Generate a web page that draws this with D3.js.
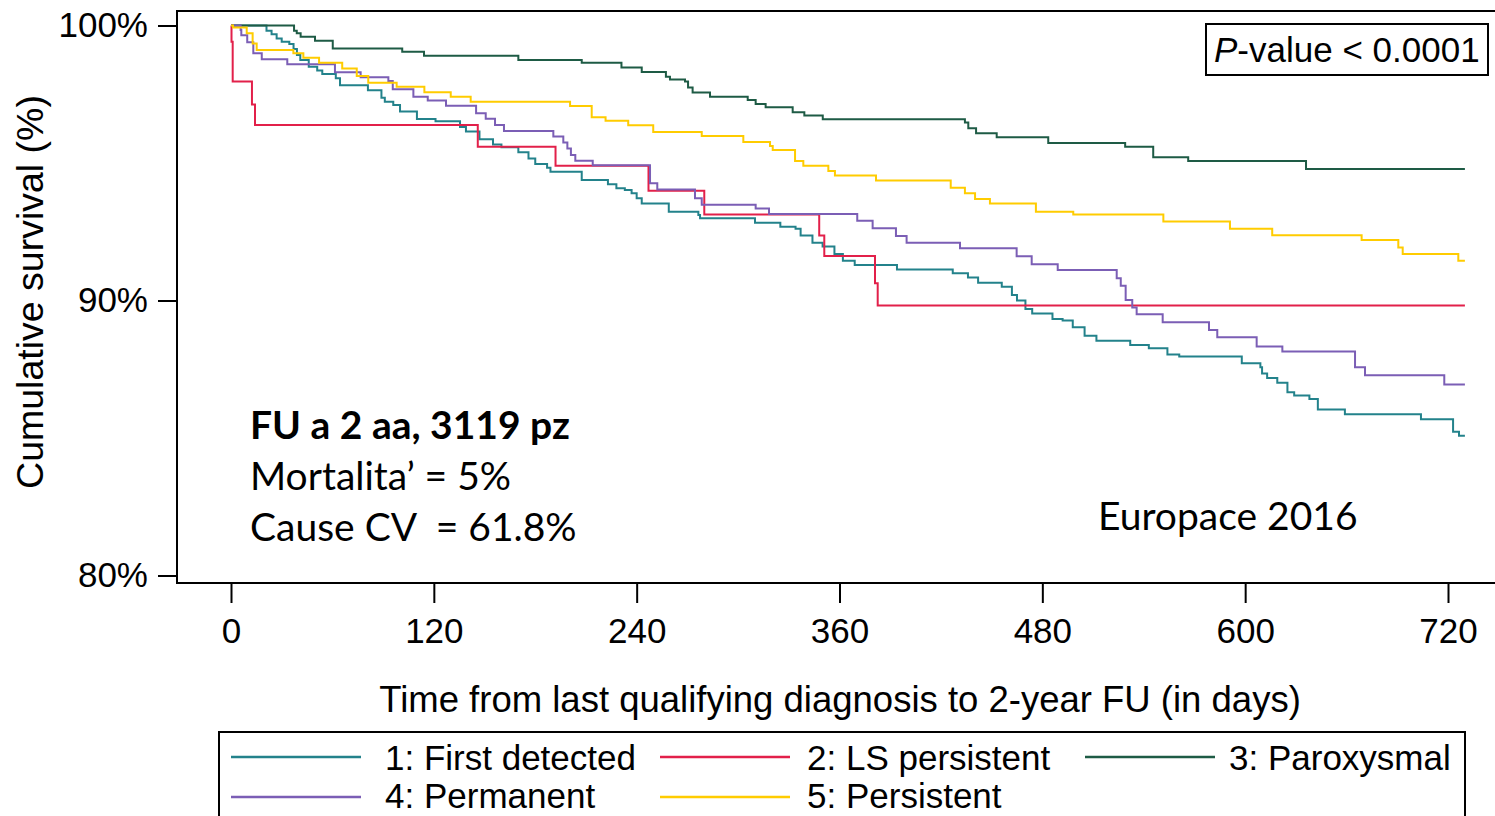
<!DOCTYPE html>
<html>
<head>
<meta charset="utf-8">
<script src="https://cdn.jsdelivr.net/npm/d3@7"></script>
<style>
  body { margin: 0; background: #fff; }
  svg { display: block; }
  .lbl { font-family: "Liberation Sans", Arial, Helvetica, sans-serif; font-size: 35px; fill: #000; }
  .note { font-family: Lato, "Open Sans", sans-serif; font-size: 39px; fill: #000; }
</style>
</head>
<body>
<svg width="1495" height="816"></svg>
<script>
// groups, in legend order
var categories = ["1: First detected", "2: LS persistent", "3: Paroxysmal", "4: Permanent", "5: Persistent"];
var colors = ["#23828b", "#e2204a", "#1e5b45", "#7b5eb5", "#ffcc00"];

// Kaplan-Meier steps: [day, survival %]
var firstDetected = [[0,100],[21,99.81],[24,99.68],[27,99.53],[30,99.41],[34.5,99.33],[37,99.15],[39,98.93],[41,98.75],[46,98.5],[51,98.36],[54,98.24],[62,98.08],[64.5,97.83],[81,97.65],[89,97.37],[91,97.23],[96,97.11],[100,96.87],[110,96.6],[121,96.52],[135.5,96.31],[139,96.15],[147,95.86],[155,95.67],[160,95.57],[170,95.39],[176,95.16],[180,94.96],[187,94.83],[189,94.68],[207.5,94.38],[223,94.23],[228,94.08],[233,94.02],[237,93.9],[240,93.72],[243,93.53],[259,93.23],[276.5,93.11],[277.5,92.99],[310,92.83],[325,92.68],[334,92.61],[337,92.36],[344,92.1],[350,91.96],[357,91.69],[362,91.45],[369,91.29],[394,91.13],[427,90.99],[436,90.84],[442,90.65],[456,90.5],[462,90.2],[465,90],[470,89.69],[474,89.53],[486,89.33],[492,89.27],[498,89.03],[505,88.72],[512,88.54],[532,88.38],[543,88.26],[554,88.04],[561,87.96],[598,87.72],[609,87.57],[610,87.35],[613,87.18],[619,87.01],[625,86.66],[629,86.55],[638,86.42],[643,86.04],[659,85.86],[704,85.68],[723,85.23],[726.5,85.08],[730,85.08]];
var lsPersistent = [[0,100],[0.3,99.41],[1,97.96],[12.4,97.13],[14.2,96.38],[146,95.59],[192,94.9],[247,93.99],[280,93.13],[348,92.36],[351,91.62],[381,90.63],[382.6,89.82],[730,89.82]];
var paroxysmal = [[0,100],[37.3,99.81],[38.9,99.72],[41.2,99.59],[49.7,99.45],[60.2,99.16],[101.3,99.05],[114.2,98.9],[170,98.75],[207.5,98.65],[231,98.47],[243,98.31],[257.3,98.14],[259.7,98.04],[268.6,97.96],[270.4,97.75],[273.1,97.56],[283.4,97.41],[305.7,97.29],[310.4,97.15],[316.3,97.03],[332.3,96.85],[339.2,96.73],[350.1,96.59],[434.2,96.47],[436.2,96.26],[440.8,96.08],[453,95.94],[483.5,95.73],[529,95.59],[545.6,95.21],[566.3,95.07],[636,94.78],[730,94.78]];
var permanent = [[0,100],[5.7,99.84],[6.1,99.65],[9.6,99.39],[13.2,98.99],[18.2,98.77],[33.3,98.59],[61.5,98.3],[76.7,98.12],[93.1,97.98],[95.7,97.68],[107.9,97.41],[116.4,97.27],[127.2,97.08],[145,96.81],[150.7,96.61],[156.2,96.38],[161.5,96.16],[190.7,95.96],[196.6,95.75],[199,95.53],[201.1,95.29],[203.7,95.08],[214,94.92],[247.9,94.26],[252.2,94.04],[274.5,93.72],[278.5,93.48],[310.4,93.35],[318.3,93.15],[370.5,92.9],[379.6,92.63],[393.4,92.35],[399.7,92.1],[431.3,91.9],[464.8,91.61],[473.7,91.32],[489.1,91.11],[524,90.81],[526.4,90.54],[529.3,90.02],[533.2,89.75],[535.8,89.5],[551.2,89.21],[578.6,88.93],[583.5,88.66],[606.8,88.33],[622,88.15],[665,87.57],[670.9,87.28],[717.8,86.95],[730,86.95]];
var persistent = [[0,100],[1.2,99.93],[9.3,99.72],[12.8,99.35],[15.2,99.11],[36.9,98.99],[42.8,98.83],[52.1,98.65],[65.8,98.44],[74.4,98.16],[81.2,97.92],[98,97.77],[114.4,97.57],[130,97.41],[141.8,97.23],[200.6,97.07],[213.4,96.66],[221.6,96.54],[235,96.37],[249.8,96.13],[278.5,95.98],[303.1,95.76],[318.9,95.62],[320.5,95.47],[333.7,95.07],[338.6,94.9],[353.4,94.71],[357.3,94.55],[381.6,94.36],[425.8,94.1],[434.2,93.9],[440.2,93.69],[449,93.53],[476.2,93.23],[498.3,93.13],[551.6,92.87],[591,92.61],[616,92.37],[668.9,92.2],[690.6,91.93],[693.2,91.69],[726.1,91.45],[730,91.45]];

var xTicks = [0, 120, 240, 360, 480, 600, 720];
var yTicks = [80, 90, 100];
var yTickLabels = ["80%", "90%", "100%"];

var series = [firstDetected, lsPersistent, paroxysmal, permanent, persistent];

var svg = d3.select("svg");

var x = d3.scaleLinear().domain([0, 720]).range([231, 1448]);
var y = d3.scaleLinear().domain([80, 100]).range([575.5, 25.5]);

// plot frame (right side runs off the picture)
svg.append("rect")
  .attr("x", 177).attr("y", 11)
  .attr("width", 1330).attr("height", 572)
  .attr("fill", "none").attr("stroke", "#000").attr("stroke-width", 2);

// y axis
var yAxis = svg.append("g").attr("transform", "translate(177,0)")
  .call(d3.axisLeft(y).tickValues(yTicks).tickSize(19).tickPadding(10)
    .tickFormat(function(d, i) { return yTickLabels[i]; }));
yAxis.select(".domain").remove();
yAxis.selectAll(".tick line").attr("stroke-width", 2);
yAxis.selectAll(".tick text").attr("class", "lbl").attr("font-size", null).attr("font-family", null);

// x axis
var xAxis = svg.append("g").attr("transform", "translate(0,583)")
  .call(d3.axisBottom(x).tickValues(xTicks).tickSize(20).tickPadding(15));
xAxis.select(".domain").remove();
xAxis.selectAll(".tick line").attr("stroke-width", 2);
xAxis.selectAll(".tick text").attr("class", "lbl").attr("font-size", null).attr("font-family", null);

svg.append("text").attr("class", "lbl")
  .attr("x", 840).attr("y", 712).attr("text-anchor", "middle")
  .style("font-size", "36.5px")
  .text("Time from last qualifying diagnosis to 2-year FU (in days)");

svg.append("text").attr("class", "lbl")
  .attr("transform", "translate(43,292) rotate(-90)")
  .attr("text-anchor", "middle")
  .style("font-size", "37.5px")
  .text("Cumulative survival (%)");

// curves
var line = d3.line()
  .x(function(d) { return x(d[0]); })
  .y(function(d) { return y(d[1]); })
  .curve(d3.curveStepAfter);

svg.append("g").selectAll("path")
  .data(series)
  .enter().append("path")
  .attr("d", line)
  .attr("fill", "none")
  .attr("stroke", function(d, i) { return colors[i]; })
  .attr("stroke-width", 2);

// p-value box
svg.append("rect")
  .attr("x", 1206).attr("y", 24).attr("width", 282).attr("height", 51)
  .attr("fill", "#fff").attr("stroke", "#000").attr("stroke-width", 2);
var pv = svg.append("text").attr("class", "lbl").attr("x", 1214).attr("y", 62);
pv.append("tspan").attr("font-style", "italic").text("P");
pv.append("tspan").text("-value < 0.0001");

// notes
svg.append("text").attr("class", "note").attr("x", 250).attr("y", 439)
  .attr("font-weight", "bold").text("FU a 2 aa, 3119 pz");
svg.append("text").attr("class", "note").attr("x", 250).attr("y", 490)
  .text("Mortalita\u2019 = 5%");
svg.append("text").attr("class", "note").attr("x", 250).attr("y", 541)
  .attr("xml:space", "preserve").text("Cause CV  = 61.8%");
svg.append("text").attr("class", "note").attr("x", 1098).attr("y", 530)
  .text("Europace 2016");

// legend
svg.append("rect")
  .attr("x", 219).attr("y", 732).attr("width", 1246).attr("height", 110)
  .attr("fill", "none").attr("stroke", "#000").attr("stroke-width", 2);

var legPos = [[231, 757], [660, 757], [1085, 757], [231, 797], [660, 797]];
var legText = [154, 147, 144, 154, 147];
var leg = svg.append("g").selectAll("g")
  .data(categories)
  .enter().append("g")
  .attr("transform", function(d, i) { return "translate(" + legPos[i][0] + "," + legPos[i][1] + ")"; });
leg.append("line")
  .attr("x1", 0).attr("x2", 130)
  .attr("stroke", function(d, i) { return colors[i]; })
  .attr("stroke-width", 2.5);
leg.append("text").attr("class", "lbl")
  .attr("x", function(d, i) { return legText[i]; })
  .attr("y", function(d, i) { return i < 3 ? 13 : 11; })
  .text(function(d) { return d; });
</script>
</body>
</html>
